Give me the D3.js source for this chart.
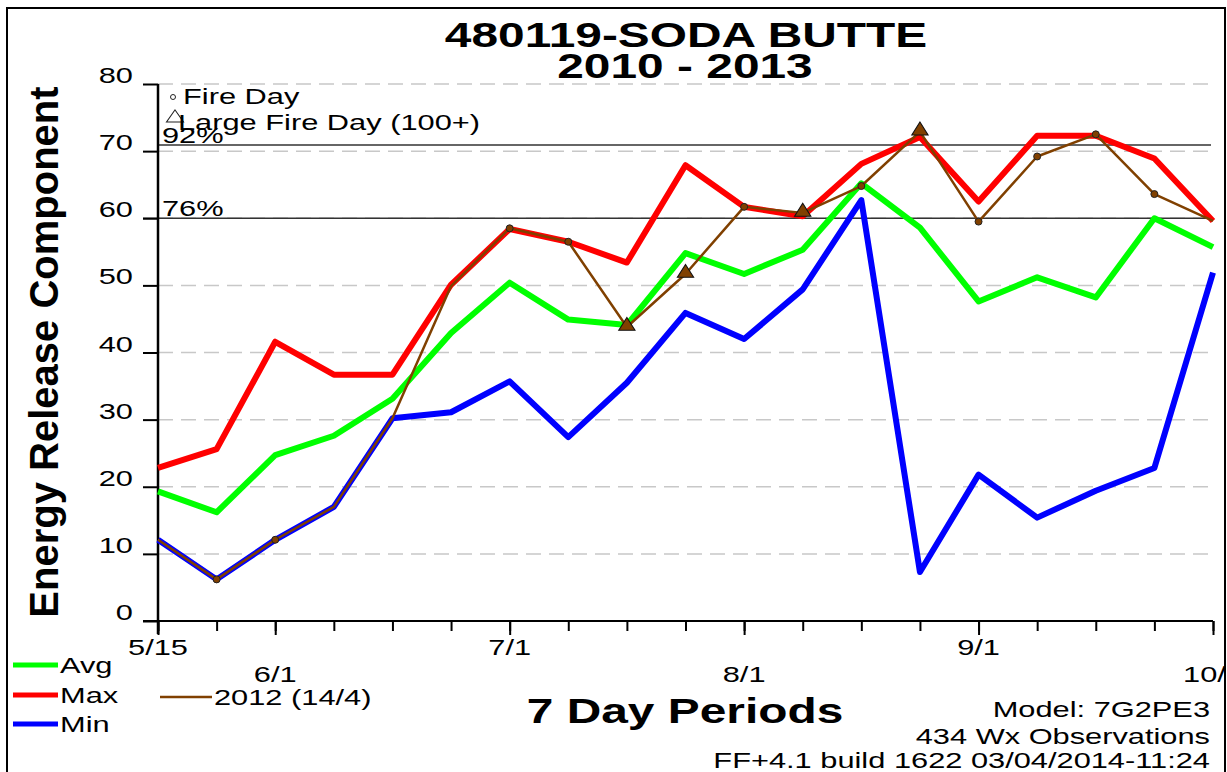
<!DOCTYPE html>
<html>
<head>
<meta charset="utf-8">
<script src="https://cdn.jsdelivr.net/npm/d3@7"></script>
<style>
  html, body { margin: 0; padding: 0; background: #fff; }
  svg { display: block; font-family: "Liberation Sans", Arial, sans-serif; }
</style>
</head>
<body>
<svg id="chart" width="1227" height="772"></svg>
<script>
// 7 day periods, 5/15 .. 10/1
const periods = d3.range(19);
const tickIndex = [0, 2, 6, 10, 14, 18];
const tickLabels = ['5/15', '6/1', '7/1', '8/1', '9/1', '10/1'];
const yTicks = [0, 10, 20, 30, 40, 50, 60, 70, 80];

const avgValues = [19.3, 16.2, 24.7, 27.6, 33.1, 42.9, 50.4, 44.9, 44.1, 54.8, 51.7, 55.3, 65.2, 58.6, 47.6, 51.2, 48.2, 60.0, 55.7];
const maxValues = [22.8, 25.6, 41.6, 36.7, 36.7, 50.1, 58.4, 56.5, 53.4, 67.9, 61.7, 60.3, 68.1, 72.1, 62.5, 72.3, 72.3, 68.9, 59.6];
const minValues = [12.1, 6.2, 12.1, 17.0, 30.2, 31.1, 35.7, 27.4, 35.5, 45.9, 42.0, 49.4, 62.7, 7.3, 21.8, 15.4, 19.4, 22.8, 51.9];
const y2012Values = [12.1, 6.2, 12.1, 17.0, 30.2, 49.9, 58.5, 56.5, 43.8, 51.7, 61.7, 60.8, 64.8, 72.9, 59.5, 69.2, 72.5, 63.6, 59.6];
// marker per 2012 point: '' none, 'f' fire day, 'L' large fire day
const y2012Markers = ['', 'f', 'f', '', '', '', 'f', 'f', 'L', 'L', 'f', 'L', 'f', 'L', 'f', 'f', 'f', 'f', ''];

const percentiles = [{ label: '92%', value: 70.9 }, { label: '76%', value: 60 }];

// the source image is stretched horizontally
const SX_BOLD = 1.33;
const SX_NORMAL = 1.4;

const svg = d3.select('#chart');

svg.append('clipPath').attr('id', 'frameClip')
    .append('rect').attr('x', 8).attr('y', 9).attr('width', 1216).attr('height', 770);

const root = svg.append('g').attr('clip-path', 'url(#frameClip)');

// outer frame
svg.append('rect')
    .attr('x', 7).attr('y', 8).attr('width', 1218).attr('height', 800)
    .attr('fill', 'none').attr('stroke', '#000').attr('stroke-width', 2);

function txt(g, s, x, y, size, opts = {}) {
    const sx = opts.bold ? SX_BOLD : SX_NORMAL;
    return g.append('text')
        .attr('transform', opts.rotate
            ? `translate(${x},${y}) rotate(-90)`
            : `translate(${x},${y}) scale(${sx},1)`)
        .attr('text-anchor', opts.anchor || 'start')
        .style('font-size', size + 'px')
        .style('font-weight', opts.bold ? 'bold' : 'normal')
        .style('fill', '#000')
        .text(s);
}

const x = d3.scalePoint().domain(periods).range([158, 1213]);
const y = d3.scaleLinear().domain([0, 80]).range([621, 84]);

// dashed grid lines
root.append('g')
    .selectAll('line')
    .data(yTicks.slice(1))
    .enter()
    .append('line')
    .attr('x1', 158).attr('x2', 1213)
    .attr('y1', d => y(d)).attr('y2', d => y(d))
    .attr('stroke', '#c8c8c8')
    .attr('stroke-width', 1.5)
    .attr('stroke-dasharray', '15,8');

// percentile lines
percentiles.forEach((p, i) => {
    root.append('line')
        .attr('x1', i === 0 ? 159 : 143).attr('x2', 1211)
        .attr('y1', y(p.value)).attr('y2', y(p.value))
        .attr('stroke', '#333').attr('stroke-width', 1.5);
    txt(root, p.label, 162, y(p.value) - 2, 22);
});

// axes
const xMinor = root.append('g')
    .attr('transform', `translate(0,${y(0)})`)
    .call(d3.axisBottom(x).tickSize(10).tickFormat(''));
const xMajor = root.append('g')
    .attr('transform', `translate(0,${y(0)})`)
    .call(d3.axisBottom(x).tickValues(tickIndex).tickSize(14).tickFormat(''));
const yAxis = root.append('g')
    .attr('transform', `translate(158,0)`)
    .call(d3.axisLeft(y).tickValues(yTicks).tickSize(15).tickFormat(''));

[xMinor, xMajor, yAxis].forEach(a => {
    a.select('.domain').remove();
    a.selectAll('.tick line').attr('stroke', '#000').attr('stroke-width', 2);
});
root.append('line').attr('x1', 143).attr('x2', 1213).attr('y1', y(0)).attr('y2', y(0))
    .attr('stroke', '#000').attr('stroke-width', 2);
root.append('line').attr('x1', 158).attr('x2', 158).attr('y1', y(80)).attr('y2', y(0) + 13)
    .attr('stroke', '#000').attr('stroke-width', 2.5);

// tick labels
yTicks.forEach(v => txt(root, String(v), 133, y(v) - 1, 22, { anchor: 'end' }));
tickIndex.forEach((idx, i) => {
    txt(root, tickLabels[i], x(idx), i % 2 === 0 ? 655 : 682, 22, { anchor: 'middle' });
});

// series lines
const line = d3.line()
    .x((d, i) => x(periods[i]))
    .y(d => y(d));

const series = [
    { values: avgValues, color: '#00ff00', width: 6 },
    { values: maxValues, color: '#ff0000', width: 6 },
    { values: minValues, color: '#0000ff', width: 6 },
    { values: y2012Values, color: '#804000', width: 2.5 }
];
series.forEach(s => {
    root.append('path')
        .datum(s.values)
        .attr('d', line)
        .attr('fill', 'none')
        .attr('stroke', s.color)
        .attr('stroke-width', s.width)
        .attr('stroke-linejoin', 'round');
});

// 2012 markers
const tri = d3.symbol().type(d3.symbolTriangle).size(95);
y2012Values.forEach((v, i) => {
    const m = y2012Markers[i];
    if (m === 'f') {
        root.append('circle')
            .attr('cx', x(periods[i])).attr('cy', y(v)).attr('r', 3.5)
            .attr('fill', '#804000').attr('stroke', '#222').attr('stroke-width', 1);
    } else if (m === 'L') {
        root.append('path')
            .attr('d', tri)
            .attr('transform', `translate(${x(periods[i])},${y(v) - 1}) scale(1.1,1)`)
            .attr('fill', '#804000').attr('stroke', '#111').attr('stroke-width', 1);
    }
});

// marker key at top left
root.append('circle').attr('cx', 173).attr('cy', 97).attr('r', 2.5)
    .attr('fill', '#fff').attr('stroke', '#222').attr('stroke-width', 1);
txt(root, 'Fire Day', 183, 104, 22);
root.append('path')
    .attr('d', tri)
    .attr('transform', 'translate(175,118) scale(1.15,0.95)')
    .attr('fill', '#fff').attr('stroke', '#222').attr('stroke-width', 1);
txt(root, 'Large Fire Day (100+)', 178, 130, 22);

// titles
txt(root, '480119-SODA BUTTE', 686, 47, 36, { anchor: 'middle', bold: true });
txt(root, '2010 - 2013', 685, 78, 36, { anchor: 'middle', bold: true });
txt(root, 'Energy Release Component', 58, 352, 40, { anchor: 'middle', bold: true, rotate: true });
txt(root, '7 Day Periods', 685, 723, 36, { anchor: 'middle', bold: true });

// series legend
const legendItems = [
    { label: 'Avg', color: '#00ff00', x1: 13, x2: 58, y: 665, w: 5 },
    { label: 'Max', color: '#ff0000', x1: 13, x2: 58, y: 695, w: 5 },
    { label: 'Min', color: '#0000ff', x1: 13, x2: 58, y: 724, w: 5 },
    { label: '2012 (14/4)', color: '#804000', x1: 160, x2: 212, y: 697, w: 2.5 }
];
legendItems.forEach(d => {
    root.append('line')
        .attr('x1', d.x1).attr('x2', d.x2).attr('y1', d.y).attr('y2', d.y)
        .attr('stroke', d.color).attr('stroke-width', d.w);
    txt(root, d.label, d.x2 + 2, d.y + 8, 22);
});

// footer notes
txt(root, 'Model: 7G2PE3', 1210, 717, 22, { anchor: 'end' });
txt(root, '434 Wx Observations', 1210, 744, 22, { anchor: 'end' });
txt(root, 'FF+4.1 build 1622 03/04/2014-11:24', 1210, 768, 22, { anchor: 'end' });
</script>
</body>
</html>
